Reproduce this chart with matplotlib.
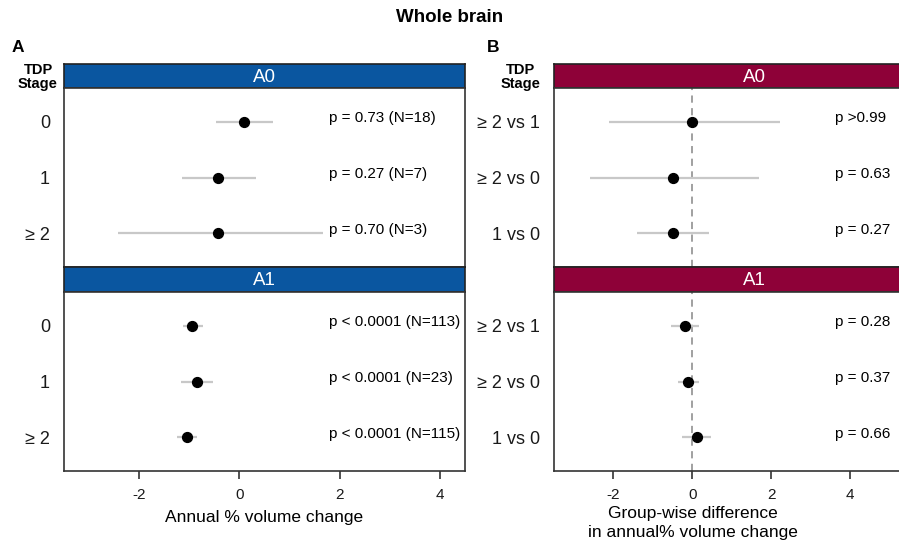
import matplotlib
matplotlib.use('Agg')
import matplotlib.pyplot as plt

plt.rcParams['font.family'] = ['Liberation Sans', 'DejaVu Sans']

# Panel A: annual % volume change by TDP stage
stages = ['0', '1', '≥ 2']
a0_est = [0.10, -0.42, -0.42]
a0_lo = [-0.47, -1.15, -2.43]
a0_hi = [0.67, 0.33, 1.67]
a0_lab = ['p = 0.73 (N=18)', 'p = 0.27 (N=7)', 'p = 0.70 (N=3)']
a1_est = [-0.94, -0.85, -1.05]
a1_lo = [-1.12, -1.17, -1.25]
a1_hi = [-0.73, -0.53, -0.85]
a1_lab = ['p < 0.0001 (N=113)', 'p < 0.0001 (N=23)', 'p < 0.0001 (N=115)']

# Panel B: group-wise differences
contrasts = ['≥ 2 vs 1', '≥ 2 vs 0', '1 vs 0']
b0_est = [0.00, -0.50, -0.50]
b0_lo = [-2.11, -2.59, -1.41]
b0_hi = [2.22, 1.70, 0.43]
b0_lab = ['p >0.99', 'p = 0.63', 'p = 0.27']
b1_est = [-0.19, -0.10, 0.11]
b1_lo = [-0.54, -0.37, -0.27]
b1_hi = [0.18, 0.16, 0.47]
b1_lab = ['p = 0.28', 'p = 0.37', 'p = 0.66']

W, H = 899, 541
fig = plt.figure(figsize=(W / 100, H / 100), dpi=100)

BLUE = '#0A56A0'
MAROON = '#8E0138'


def box(x0, y0, x1, y1):
    return [x0 / W, 1 - y1 / H, (x1 - x0) / W, (y1 - y0) / H]


def strip(x0, x1, y0, y1, color, label):
    ax = fig.add_axes(box(x0, y0, x1, y1))
    ax.set_xticks([])
    ax.set_yticks([])
    ax.set_facecolor(color)
    for s in ax.spines.values():
        s.set_color('#222222')
        s.set_linewidth(1.2)
    ax.text(0.5, 0.45, label, transform=ax.transAxes, ha='center', va='center',
            color='white', fontsize=13.5)
    return ax


def panel(x0, x1, y0, y1, labels, est, lo, hi, plab, xlim, xtext,
          bottom=False, vline=False):
    ax = fig.add_axes(box(x0, y0, x1, y1))
    ys = list(range(1, len(labels) + 1))
    if vline:
        ax.axvline(0, color='#999999', linestyle=(0, (4, 3)), linewidth=1.3, zorder=1)
    ax.hlines(ys, lo, hi, color='#c8c8c8', linewidth=1.6, zorder=2)
    ax.scatter(est, ys, s=50, color='black', zorder=3)
    for y, t in zip(ys, plab):
        ax.text(xtext, y - 0.06, t, ha='left', va='center', fontsize=11)
    ax.set_xlim(*xlim)
    ax.set_ylim(len(labels) + 0.6, 0.4)
    ax.set_yticks(ys)
    ax.set_yticklabels(labels, fontsize=13, color='#1a1a1a')
    ax.tick_params(axis='y', length=0, pad=10)
    for s in ax.spines.values():
        s.set_color('#333333')
        s.set_linewidth(1.2)
    if bottom:
        ax.set_xticks([-2, 0, 2, 4])
        ax.set_xticklabels(['-2', '0', '2', '4'], fontsize=11, color='#1a1a1a')
        ax.tick_params(axis='x', length=6, width=1.2, color='#333333', pad=6)
    else:
        ax.set_xticks([])
    return ax


# Panel A
strip(64, 465, 64, 88, BLUE, 'A0')
panel(64, 465, 88, 267, stages, a0_est, a0_lo, a0_hi, a0_lab, (-3.5, 4.5), 1.78)
strip(64, 465, 267, 292, BLUE, 'A1')
axA = panel(64, 465, 292, 471, stages, a1_est, a1_lo, a1_hi, a1_lab, (-3.5, 4.5), 1.78,
            bottom=True)
axA.set_xlabel('Annual % volume change', fontsize=12.5, labelpad=6)

# Panel B (extends past the right edge, as in the original)
bx0, bx1 = 554, 554 + 400
bxl = (-3.5, -3.5 + 400 / 39.5)
strip(bx0, bx1, 64, 88, MAROON, 'A0')
panel(bx0, bx1, 88, 267, contrasts, b0_est, b0_lo, b0_hi, b0_lab, bxl, 3.62, vline=True)
strip(bx0, bx1, 267, 292, MAROON, 'A1')
axB = panel(bx0, bx1, 292, 471, contrasts, b1_est, b1_lo, b1_hi, b1_lab, bxl, 3.62,
            bottom=True, vline=True)
axB.set_xlabel('Group-wise difference\nin annual% volume change', fontsize=12.5,
               linespacing=1.3)
axB.xaxis.set_label_coords((693 - bx0) / 400, -(506 - 471) / 179)
axB.xaxis.label.set_va('top')

# Titles and labels
fig.text(450 / W, 1 - 18 / H, 'Whole brain', ha='center', va='center',
         fontsize=13.5, fontweight='bold')
fig.text(18 / W, 1 - 47 / H, 'A', ha='center', va='center', fontsize=12.5, fontweight='bold')
fig.text(493 / W, 1 - 47 / H, 'B', ha='center', va='center', fontsize=12.5, fontweight='bold')
fig.text(38 / W, 1 - 77 / H, 'TDP\nStage', ha='center', va='center', fontsize=10.5,
         fontweight='bold', linespacing=0.95)
fig.text(521 / W, 1 - 77 / H, 'TDP\nStage', ha='center', va='center', fontsize=10.5,
         fontweight='bold', linespacing=0.95)

fig.savefig('out.png', dpi=100)
